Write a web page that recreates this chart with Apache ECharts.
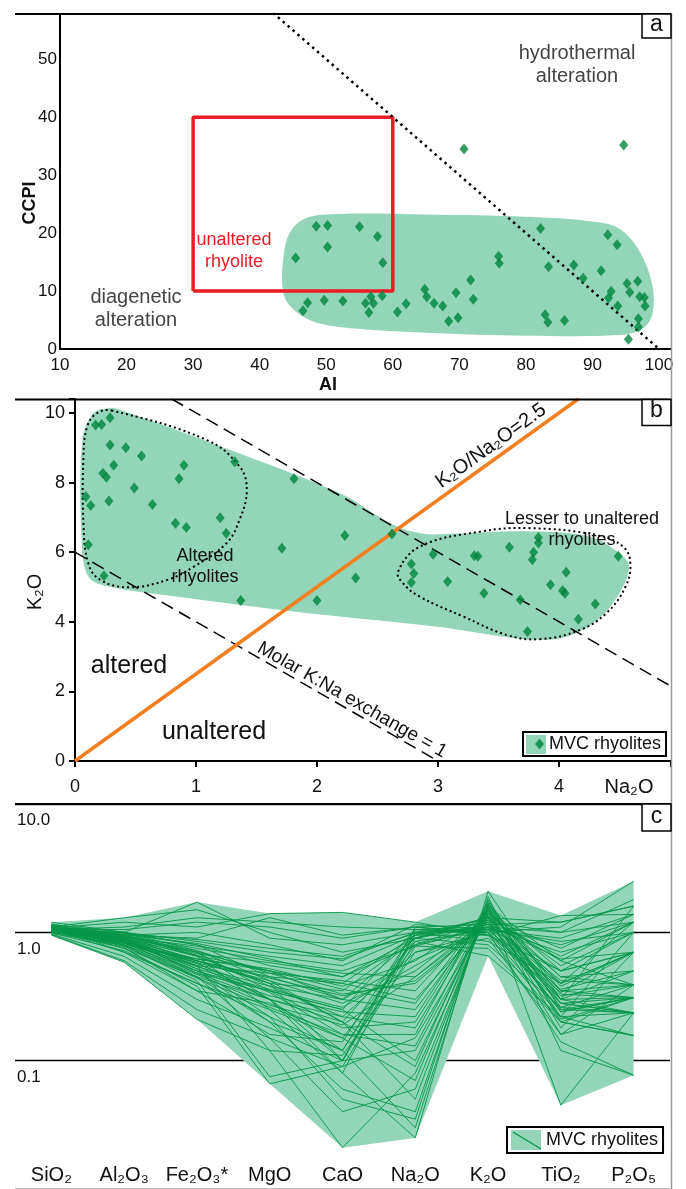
<!DOCTYPE html>
<html lang="en">
<head>
<meta charset="UTF-8">
<title>MVC rhyolites - alteration plots</title>
<script src="https://cdn.jsdelivr.net/npm/echarts/dist/echarts.min.js"></script>
<style>
  html, body { margin: 0; padding: 0; background: #fff; }
  #chart { width: 686px; height: 1189px; }
</style>
</head>
<body>
<div id="chart"></div>
<script type="text/javascript">
    const FONT = "'Liberation Sans', Arial, sans-serif";
    const FIELD = '#93d5b8';
    const DOT = '#00843d';
    const LINE_GREEN = '#07964a';

    // ---- panel a : AI vs CCPI ----
    let aiValues = [45.4, 48.5, 50.2, 50.2, 55.0, 57.7, 58.5, 47.2, 46.5, 49.7, 52.5, 55.9, 56.7, 57.1, 56.4, 58.4, 60.7, 62.0, 64.8, 65.1,
        66.2, 67.5, 68.4, 69.5, 69.8, 71.7, 72.1, 75.9, 76.0, 70.7, 82.2, 83.4, 82.9, 83.3, 85.8, 87.2, 88.6, 91.3, 92.3, 93.7,
        92.8, 92.4, 93.8, 95.2, 95.6, 96.8, 97.1, 97.8, 97.9, 96.9, 96.9, 95.4, 94.7];
    let ccpiValues = [15.7, 21.2, 21.3, 17.6, 21.1, 19.4, 14.9, 8.0, 6.6, 8.4, 8.3, 7.9, 9.0, 7.9, 6.3, 9.2, 6.4, 7.8, 10.3, 9.0,
        7.9, 7.4, 4.8, 9.7, 5.4, 11.9, 8.6, 16.0, 14.8, 34.5, 20.8, 14.2, 5.9, 4.6, 4.9, 14.5, 12.2, 13.5, 19.7, 18.0,
        9.9, 8.8, 7.4, 11.3, 9.8, 11.7, 9.0, 8.9, 7.4, 5.2, 3.8, 1.7, 35.2];
    // outline of the shaded MVC field (AI, CCPI)
    let fieldA = [[43.5, 15], [44.5, 20], [47, 22.6], [52, 23.3], [65, 23.2], [80, 22.8], [90, 22], [94, 20.8], [97, 17],
        [99, 11], [99, 6], [97.5, 3.5], [94, 2.4], [80, 2.3], [65, 2.8], [52, 3.8], [47.5, 5], [44.5, 7.5], [43.5, 10]];
    let unalteredBox = [[30, 10], [30, 40], [60, 40], [60, 10], [30, 10]];
    let boxTrend = [[42, 58], [100, 0]];

    // ---- panel b : Na2O vs K2O ----
    let na2oValues = [0.29, 0.17, 0.22, 0.29, 0.42, 0.55, 0.32, 0.23, 0.26, 0.90, 0.86, 1.32, 0.49, 0.09, 0.13, 0.28, 0.64, 0.83, 0.92, 1.20,
        1.25, 0.11, 0.24, 1.37, 1.81, 1.71, 2.00, 2.23, 2.32, 2.62, 2.78, 2.80, 2.78, 2.96, 3.08, 3.30, 3.33, 3.38, 3.59, 3.68,
        3.74, 3.79, 3.78, 3.83, 3.83, 3.93, 4.03, 4.05, 4.06, 4.16, 4.30, 4.49];
    let k2oValues = [9.86, 9.65, 9.67, 9.08, 9.00, 8.76, 8.50, 8.27, 8.15, 8.50, 8.11, 8.60, 7.84, 7.59, 7.34, 7.47, 7.37, 6.83, 6.71, 6.99,
        6.54, 6.21, 5.32, 4.61, 8.11, 6.11, 4.61, 6.48, 5.26, 6.52, 5.66, 5.39, 5.13, 5.94, 5.16, 5.90, 5.88, 4.82, 6.14, 4.63,
        3.72, 6.00, 5.78, 6.42, 6.26, 5.06, 4.89, 4.82, 5.42, 4.07, 4.51, 5.88];
    let fieldB = [[0.26, 10.13], [0.34, 10.13], [1.25, 8.98], [2.19, 7.69], [2.63, 6.79], [2.88, 6.53], [3.10, 6.53], [3.71, 6.6],
        [4.25, 6.45], [4.5, 5.97], [4.58, 5.59], [4.5, 4.82], [4.32, 4.06], [4.07, 3.58], [3.82, 3.48], [3.53, 3.58], [2.99, 3.86],
        [1.91, 4.25], [0.82, 4.73], [0.28, 5.01], [0.11, 5.30], [0.055, 6.35], [0.06, 9.22], [0.15, 9.99]];
    let alteredLoop = [[0.30, 10.07], [1.09, 9.22], [1.36, 8.46], [1.42, 7.79], [1.36, 6.93], [1.25, 6.25], [0.98, 5.58], [0.76, 5.20],
        [0.45, 4.99], [0.21, 5.20], [0.11, 5.68], [0.07, 6.82], [0.07, 8.74], [0.10, 9.6], [0.18, 9.99]];
    let lesserLoop = [[2.67, 5.44], [2.85, 6.16], [3.35, 6.59], [3.76, 6.69], [4.31, 6.49], [4.53, 6.16], [4.59, 5.68], [4.55, 5.01],
        [4.39, 4.24], [4.17, 3.76], [3.84, 3.50], [3.57, 3.62], [3.21, 4.15], [2.85, 4.72], [2.71, 5.11]];
    let ratioLine = [[0, 0], [4.16, 10.4]];           // K2O/Na2O = 2.5
    let upperDashed = [[0.8, 10.4], [4.93, 2.14]];
    let exchangeLine = [[0, 6], [3, 0]];              // molar K:Na exchange = 1

    // ---- panel c : normalised oxides ----
    let oxides = ['SiO₂', 'Al₂O₃', 'Fe₂O₃*', 'MgO', 'CaO', 'Na₂O', 'K₂O', 'TiO₂', 'P₂O₅'];
    let spiderRows = [
        [1.05, 1.10, 1.30, 1.20, 1.10, 1.05, 1.10, 1.00, 1.20],
        [1.02, 1.00, 1.72, 0.90, 0.80, 1.00, 1.05, 0.85, 1.00],
        [1.08, 1.20, 1.10, 1.40, 1.43, 1.20, 0.95, 1.35, 1.38],
        [1.00, 0.95, 0.90, 1.30, 0.95, 1.10, 1.00, 1.10, 2.50],
        [1.04, 1.00, 0.85, 0.70, 0.62, 1.00, 1.20, 1.00, 1.80],
        [1.10, 1.30, 1.50, 1.00, 0.70, 0.90, 1.30, 1.20, 1.60],
        [1.06, 0.90, 0.70, 0.50, 0.40, 0.95, 1.10, 0.70, 1.00],
        [1.03, 0.85, 0.60, 0.45, 0.30, 0.90, 1.15, 0.40, 0.70],
        [1.07, 0.80, 0.50, 0.35, 0.25, 1.05, 1.00, 0.32, 0.39],
        [1.05, 0.75, 0.45, 0.30, 0.20, 0.85, 1.05, 0.30, 0.31],
        [1.12, 0.70, 0.40, 0.25, 0.15, 0.80, 1.10, 0.25, 0.236],
        [1.09, 0.90, 0.55, 0.30, 0.10, 1.00, 1.00, 0.22, 0.236],
        [1.04, 0.85, 0.45, 0.20, 0.12, 0.95, 0.95, 0.20, 0.157],
        [1.06, 0.95, 0.75, 0.60, 0.50, 0.78, 1.10, 0.50, 0.70],
        [1.02, 1.00, 0.80, 0.55, 0.45, 0.80, 1.25, 0.65, 1.20],
        [0.98, 0.80, 0.60, 0.40, 0.35, 0.90, 1.30, 0.30, 0.50],
        [1.10, 0.90, 0.60, 0.40, 0.20, 0.05, 1.60, 0.60, 0.39],
        [1.12, 0.95, 0.70, 0.30, 0.12, 0.03, 1.80, 0.25, 0.31],
        [1.15, 1.00, 0.65, 0.25, 0.08, 0.025, 2.09, 0.30, 0.236],
        [1.08, 0.85, 0.50, 0.20, 0.06, 0.04, 1.70, 0.20, 0.157],
        [1.06, 0.80, 0.45, 0.15, 0.04, 0.06, 1.50, 0.18, 0.70],
        [1.13, 0.88, 0.55, 0.12, 0.021, 0.08, 1.40, 0.22, 1.00],
        [1.10, 0.92, 0.70, 0.35, 0.25, 0.10, 1.45, 0.40, 1.20],
        [1.11, 0.78, 0.42, 0.075, 0.10, 0.12, 1.35, 0.24, 0.31],
        [1.09, 0.75, 0.38, 0.066, 0.09, 0.15, 1.30, 0.16, 0.39],
        [1.14, 0.90, 0.48, 0.35, 0.18, 0.20, 1.55, 0.50, 0.70],
        [1.07, 0.82, 0.62, 0.50, 0.30, 0.25, 1.40, 0.45, 0.39],
        [1.12, 0.98, 0.80, 0.45, 0.40, 0.30, 1.25, 0.35, 0.31],
        [1.05, 0.70, 0.35, 0.28, 0.15, 0.07, 1.65, 0.045, 0.236],
        [1.08, 0.86, 0.52, 0.22, 0.05, 0.035, 1.90, 0.12, 0.077],
        [1.16, 0.95, 0.66, 0.38, 0.22, 0.18, 1.50, 0.30, 1.60],
        [1.20, 1.00, 0.72, 0.48, 0.33, 0.40, 1.20, 0.28, 0.236],
        [1.07, 0.84, 0.58, 0.42, 0.28, 0.50, 1.35, 0.33, 0.31],
        [1.03, 0.90, 0.65, 0.40, 0.10, 1.10, 0.95, 0.50, 1.00],
        [1.00, 0.88, 0.58, 0.30, 0.08, 1.00, 0.85, 0.40, 0.70],
        [0.99, 0.72, 0.40, 0.22, 0.12, 0.90, 0.80, 0.26, 0.39],
        [0.97, 0.65, 0.30, 0.18, 0.10, 0.85, 0.655, 0.22, 0.157],
        [0.96, 0.60, 0.25, 0.15, 0.09, 0.78, 0.75, 0.20, 0.31],
        [0.95, 0.585, 0.21, 0.12, 0.11, 0.70, 0.90, 0.16, 0.236],
        [1.01, 0.76, 0.35, 0.16, 0.14, 1.05, 1.00, 0.14, 0.077],
        [1.04, 0.95, 1.00, 0.80, 0.60, 1.15, 1.05, 0.90, 1.38],
        [1.06, 1.05, 1.20, 1.10, 0.90, 1.10, 1.15, 1.20, 1.60],
        [1.02, 0.92, 0.78, 0.65, 0.55, 0.95, 1.30, 0.75, 1.38],
        [1.08, 0.88, 0.62, 0.52, 0.38, 0.60, 1.40, 0.55, 1.00],
        [1.05, 0.82, 0.55, 0.48, 0.42, 0.35, 1.45, 0.38, 0.70],
        [1.10, 0.86, 0.50, 0.32, 0.24, 0.22, 1.60, 0.26, 0.236],
        [1.03, 0.78, 0.44, 0.26, 0.16, 0.16, 1.75, 0.21, 0.31],
        [1.09, 0.93, 0.68, 0.58, 0.48, 0.45, 1.30, 0.60, 1.20],
        [1.04, 0.88, 0.52, 0.36, 0.26, 0.55, 1.10, 0.36, 0.50],
        [1.06, 0.92, 0.60, 0.44, 0.32, 0.42, 1.20, 0.42, 0.39],
        [1.01, 0.83, 0.48, 0.30, 0.22, 0.70, 1.00, 0.28, 0.31],
        [1.07, 0.96, 0.82, 0.62, 0.45, 0.90, 1.15, 0.62, 0.70],
        [1.03, 0.90, 0.66, 0.50, 0.36, 0.28, 1.50, 0.45, 0.50],
        [1.09, 0.94, 0.72, 0.42, 0.20, 0.09, 1.65, 0.35, 0.39],
        [1.05, 0.87, 0.57, 0.34, 0.16, 0.13, 1.55, 0.28, 0.236],
        [1.02, 0.79, 0.47, 0.27, 0.19, 0.45, 1.20, 0.24, 0.31],
        [1.08, 0.97, 0.88, 0.75, 0.65, 0.98, 1.08, 0.80, 1.20],
        [1.00, 0.84, 0.54, 0.38, 0.30, 0.62, 1.05, 0.34, 0.70]
    ];

    let myChart = echarts.init(document.getElementById('chart'));

    // envelope of all spider lines (max going right, min coming back)
    let envTop = oxides.map((_, i) => Math.max(...spiderRows.map(r => r[i])));
    let envBottom = oxides.map((_, i) => Math.min(...spiderRows.map(r => r[i])));
    let envPoints = envTop.map((v, i) => [i, v]).concat(envBottom.map((v, i) => [i, v]).reverse());

    function shape(points, smooth, style, xi, z) {
        return {
            type: 'custom', xAxisIndex: xi, yAxisIndex: xi, silent: true, z: z,
            data: [points[0]],
            renderItem: function (params, api) {
                return {
                    type: 'polygon',
                    shape: {points: points.map(p => api.coord(p)), smooth: smooth},
                    style: style
                };
            }
        };
    }

    function refLine(points, idx, color, width, type, z) {
        return {
            type: 'line', xAxisIndex: idx, yAxisIndex: idx, data: points, symbol: 'none', silent: true, z: z,
            lineStyle: {color: color, width: width, type: type}
        };
    }

    function tenths(step) {
        return function (v) {
            return Math.abs(v / step - Math.round(v / step)) < 1e-6 ? String(Math.round(v)) : '';
        };
    }

    let axisLineBlack = {show: true, lineStyle: {color: '#000', width: 2}};
    let txt = (text, x, y, size, extra) => Object.assign({
        type: 'text', x: x, y: y, z: 20,
        style: Object.assign({text: text, font: size + 'px ' + FONT, fill: '#111', align: 'center', verticalAlign: 'middle'}, extra && extra.style)
    }, extra && extra.el);

    let series = [
        // panel a
        Object.assign(shape(fieldA, 0.35, {fill: FIELD}, 0, 1), {name: 'fieldA'}),
        refLine(unalteredBox, 0, '#ec1c24', 3.5, 'solid', 3),
        refLine(boxTrend, 0, '#000', 2.5, [2.5, 4], 4),
        {
            name: 'mvcA', type: 'scatter', xAxisIndex: 0, yAxisIndex: 0, symbol: 'diamond', symbolSize: [9, 11], z: 5,
            itemStyle: {color: DOT}, data: aiValues.map((v, i) => [v, ccpiValues[i]])
        },
        // panel b
        Object.assign(shape(fieldB, 0.35, {fill: FIELD}, 1, 1), {name: 'fieldB'}),
        shape(alteredLoop, 0.4, {fill: 'none', stroke: '#000', lineWidth: 2, lineDash: [2, 3]}, 1, 3),
        shape(lesserLoop, 0.4, {fill: 'none', stroke: '#000', lineWidth: 2, lineDash: [2, 3]}, 1, 3),
        refLine(upperDashed, 1, '#000', 1.5, [13, 7], 3),
        refLine(exchangeLine, 1, '#000', 1.5, [13, 7], 3),
        refLine(ratioLine, 1, '#f47f20', 3.5, 'solid', 4),
        {
            name: 'mvcB', type: 'scatter', xAxisIndex: 1, yAxisIndex: 1, symbol: 'diamond', symbolSize: [9, 11], z: 5,
            itemStyle: {color: DOT}, data: na2oValues.map((v, i) => [v, k2oValues[i]])
        },
        // panel c
        Object.assign(shape(envPoints, 0, {fill: FIELD}, 2, 1), {name: 'envC', itemStyle: {color: FIELD}})
    ];
    for (let i = 0; i < spiderRows.length; i++) {
        series.push({
            name: 'r' + i, type: 'line', xAxisIndex: 2, yAxisIndex: 2, data: spiderRows[i], symbol: 'none', silent: true, z: 3,
            lineStyle: {color: LINE_GREEN, width: 1, opacity: 0.9}
        });
    }

    let option = {
        animation: false,
        textStyle: {fontFamily: FONT},
        grid: [
            {left: 60, top: 14, right: 15, bottom: 840, outerBoundsMode: 'none'},
            {left: 75, top: 399, right: 15, bottom: 428, outerBoundsMode: 'none'},
            {left: 15, top: 804, right: 16, bottom: 0, outerBoundsMode: 'none'}
        ],
        xAxis: [
            {
                gridIndex: 0, type: 'value', min: 10, max: 101.8, interval: 10,
                axisLine: axisLineBlack, axisTick: {show: false}, splitLine: {show: false},
                axisLabel: {fontSize: 17, color: '#111', margin: 8, formatter: tenths(10)}
            },
            {
                gridIndex: 1, type: 'value', min: 0, max: 4.926, interval: 1,
                axisLine: axisLineBlack, axisTick: {show: true, length: 6, lineStyle: {color: '#000', width: 2}},
                splitLine: {show: false},
                axisLabel: {fontSize: 18, color: '#111', margin: 17, formatter: tenths(1)}
            },
            {
                gridIndex: 2, type: 'category', data: oxides, boundaryGap: true,
                axisLine: {show: false}, axisTick: {show: false}, splitLine: {show: false},
                axisLabel: {inside: true, margin: 4, fontSize: 20, color: '#111', interval: 0}
            }
        ],
        yAxis: [
            {
                gridIndex: 0, type: 'value', min: 0, max: 57.8, interval: 10,
                axisLine: axisLineBlack, axisTick: {show: false}, splitLine: {show: false},
                axisLabel: {fontSize: 17, color: '#111', margin: 3, formatter: tenths(10)}
            },
            {
                gridIndex: 1, type: 'value', min: 0, max: 10.4, interval: 2,
                axisLine: axisLineBlack, axisTick: {show: true, length: 6, lineStyle: {color: '#000', width: 2}},
                splitLine: {show: false},
                axisLabel: {fontSize: 18, color: '#111', margin: 10, formatter: tenths(2)}
            },
            {
                gridIndex: 2, type: 'log', logBase: 10, min: 0.01, max: 10,
                axisLine: {show: false}, axisTick: {show: false},
                splitLine: {show: true, lineStyle: {color: '#000', width: 1.3}},
                axisLabel: {
                    inside: true, margin: 2, fontSize: 17, color: '#111', verticalAlign: 'top', padding: [8, 0, 0, 0],
                    formatter: function (v) { return v >= 0.1 ? v.toFixed(1) : ''; }
                }
            }
        ],
        legend: [
            {
                data: ['mvcB'], left: 523, top: 732, icon: 'diamond', itemWidth: 9, itemHeight: 11,
                padding: [3, 5, 3, 12], borderColor: '#000', borderWidth: 2, backgroundColor: 'transparent',
                selectedMode: false, z: 5, formatter: () => 'MVC rhyolites',
                textStyle: {fontSize: 18, color: '#111', fontFamily: FONT}
            },
            {
                data: ['envC'], left: 507, top: 1127, icon: 'rect', itemWidth: 30, itemHeight: 20,
                padding: [3, 5, 3, 4], borderColor: '#000', borderWidth: 2, backgroundColor: 'transparent',
                selectedMode: false, z: 5, formatter: () => 'MVC rhyolites',
                textStyle: {fontSize: 18, color: '#111', fontFamily: FONT}
            }
        ],
        graphic: [
            // panel frames
            {type: 'line', shape: {x1: 15, y1: 14, x2: 671, y2: 14}, style: {stroke: '#000', lineWidth: 2}, z: 10},
            {type: 'line', shape: {x1: 15, y1: 399.5, x2: 671, y2: 399.5}, style: {stroke: '#000', lineWidth: 2}, z: 10},
            {type: 'line', shape: {x1: 15, y1: 804, x2: 671, y2: 804}, style: {stroke: '#000', lineWidth: 2}, z: 10},
            {type: 'line', shape: {x1: 671.5, y1: 14, x2: 671.5, y2: 1189}, style: {stroke: '#999', lineWidth: 1.5}, z: 10},
            // panel letters
            {type: 'rect', shape: {x: 642, y: 14, width: 29, height: 24}, style: {fill: '#fff', stroke: '#000', lineWidth: 1.5}, z: 11},
            {type: 'rect', shape: {x: 642, y: 399.5, width: 29, height: 26}, style: {fill: '#fff', stroke: '#000', lineWidth: 1.5}, z: 11},
            {type: 'rect', shape: {x: 642, y: 804, width: 29, height: 27}, style: {fill: '#fff', stroke: '#000', lineWidth: 1.5}, z: 11},
            txt('a', 656.5, 25, 23),
            txt('b', 656.5, 411, 23),
            txt('c', 656.5, 817, 23),
            // panel a texts
            txt('CCPI', 30, 203, 18, {style: {font: 'bold 18px ' + FONT}, el: {rotation: Math.PI / 2}}),
            txt('AI', 328, 385, 18, {style: {font: 'bold 18px ' + FONT}}),
            txt('hydrothermal\nalteration', 577, 65, 20, {style: {fill: '#444', lineHeight: 23}}),
            txt('diagenetic\nalteration', 136, 309, 20, {style: {fill: '#444', lineHeight: 23}}),
            txt('unaltered\nrhyolite', 234, 251, 18, {style: {fill: '#ec1c24', lineHeight: 22}}),
            // panel b texts
            txt('K₂O', 35, 592, 20, {el: {rotation: Math.PI / 2}}),
            txt('Na₂O', 629, 787, 20),
            txt('K₂O/Na₂O=2.5', 491, 446, 20, {el: {rotation: 0.623}}),
            txt('Molar K:Na exchange = 1', 352, 700, 19, {el: {rotation: -0.52}}),
            txt('Altered\nrhyolites', 205, 567, 18, {style: {lineHeight: 21}}),
            txt('Lesser to unaltered\nrhyolites', 582, 530, 18, {style: {lineHeight: 21}}),
            txt('altered', 129, 666, 25),
            txt('unaltered', 214, 732, 25),
            // legend icon details
            {type: 'rect', shape: {x: 526, y: 735, width: 20, height: 19}, style: {fill: FIELD}, z: 1},
            {type: 'line', shape: {x1: 513, y1: 1132, x2: 541, y2: 1149}, style: {stroke: LINE_GREEN, lineWidth: 1.2}, z: 12}
        ],
        series: series
    };
    myChart.setOption(option);
</script>
</body>
</html>
